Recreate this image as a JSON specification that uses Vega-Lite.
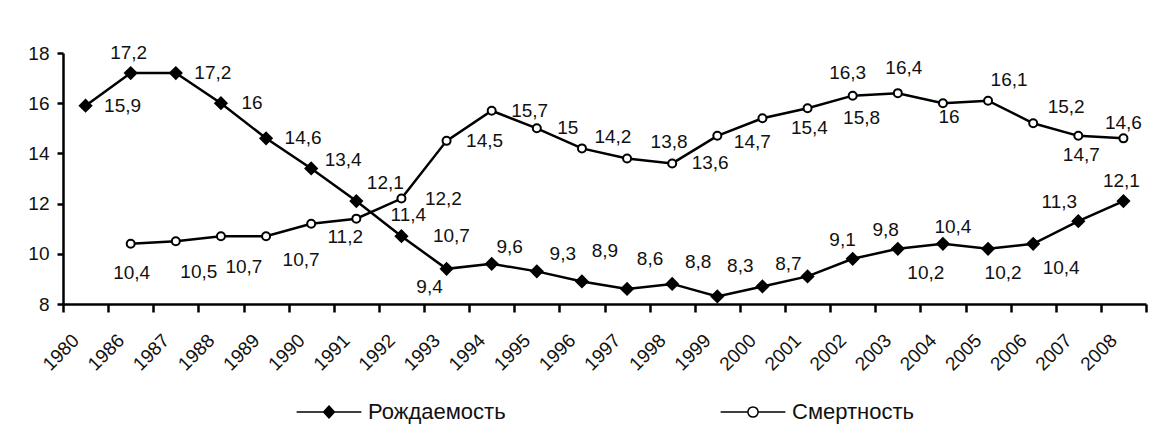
{
  "$schema": "https://vega.github.io/schema/vega-lite/v6.json",
  "autosize": "none",
  "width": 1083,
  "height": 251,
  "padding": {"left": 63, "top": 53, "right": 13, "bottom": 130},
  "background": "white",
  "config": {
    "view": {"stroke": null},
    "locale": {"number": {"decimal": ",", "thousands": "\u00a0", "grouping": [3], "currency": ["", " руб."]}},
    "axis": {"labelFont": "Liberation Sans, Arial, sans-serif", "labelFontSize": 19, "labelColor": "#111", "domainColor": "black", "domainWidth": 2.5, "tickColor": "black", "tickWidth": 2.5, "grid": false, "title": null}
  },
  "data": {"values": [
    {"year": "1980", "series": "Рождаемость", "value": 15.9},
    {"year": "1986", "series": "Рождаемость", "value": 17.2},
    {"year": "1987", "series": "Рождаемость", "value": 17.2},
    {"year": "1988", "series": "Рождаемость", "value": 16},
    {"year": "1989", "series": "Рождаемость", "value": 14.6},
    {"year": "1990", "series": "Рождаемость", "value": 13.4},
    {"year": "1991", "series": "Рождаемость", "value": 12.1},
    {"year": "1992", "series": "Рождаемость", "value": 10.7},
    {"year": "1993", "series": "Рождаемость", "value": 9.4},
    {"year": "1994", "series": "Рождаемость", "value": 9.6},
    {"year": "1995", "series": "Рождаемость", "value": 9.3},
    {"year": "1996", "series": "Рождаемость", "value": 8.9},
    {"year": "1997", "series": "Рождаемость", "value": 8.6},
    {"year": "1998", "series": "Рождаемость", "value": 8.8},
    {"year": "1999", "series": "Рождаемость", "value": 8.3},
    {"year": "2000", "series": "Рождаемость", "value": 8.7},
    {"year": "2001", "series": "Рождаемость", "value": 9.1},
    {"year": "2002", "series": "Рождаемость", "value": 9.8},
    {"year": "2003", "series": "Рождаемость", "value": 10.2},
    {"year": "2004", "series": "Рождаемость", "value": 10.4},
    {"year": "2005", "series": "Рождаемость", "value": 10.2},
    {"year": "2006", "series": "Рождаемость", "value": 10.4},
    {"year": "2007", "series": "Рождаемость", "value": 11.3},
    {"year": "2008", "series": "Рождаемость", "value": 12.1},
    {"year": "1986", "series": "Смертность", "value": 10.4},
    {"year": "1987", "series": "Смертность", "value": 10.5},
    {"year": "1988", "series": "Смертность", "value": 10.7},
    {"year": "1989", "series": "Смертность", "value": 10.7},
    {"year": "1990", "series": "Смертность", "value": 11.2},
    {"year": "1991", "series": "Смертность", "value": 11.4},
    {"year": "1992", "series": "Смертность", "value": 12.2},
    {"year": "1993", "series": "Смертность", "value": 14.5},
    {"year": "1994", "series": "Смертность", "value": 15.7},
    {"year": "1995", "series": "Смертность", "value": 15.0},
    {"year": "1996", "series": "Смертность", "value": 14.2},
    {"year": "1997", "series": "Смертность", "value": 13.8},
    {"year": "1998", "series": "Смертность", "value": 13.6},
    {"year": "1999", "series": "Смертность", "value": 14.7},
    {"year": "2000", "series": "Смертность", "value": 15.4},
    {"year": "2001", "series": "Смертность", "value": 15.8},
    {"year": "2002", "series": "Смертность", "value": 16.3},
    {"year": "2003", "series": "Смертность", "value": 16.4},
    {"year": "2004", "series": "Смертность", "value": 16.0},
    {"year": "2005", "series": "Смертность", "value": 16.1},
    {"year": "2006", "series": "Смертность", "value": 15.2},
    {"year": "2007", "series": "Смертность", "value": 14.7},
    {"year": "2008", "series": "Смертность", "value": 14.6}
  ]},
  "encoding": {
    "x": {"field": "year", "type": "ordinal", "scale": {"type": "band", "paddingInner": 0, "paddingOuter": 0},
      "axis": {"tickBand": "extent", "labelAngle": -45, "labelAlign": "right", "labelBaseline": "middle", "labelOffset": -10, "labelPadding": 25, "tickSize": 8}},
    "y": {"field": "value", "type": "quantitative", "scale": {"domain": [8, 18], "nice": false, "zero": false},
      "axis": {"values": [8, 10, 12, 14, 16, 18], "tickSize": 6, "labelPadding": 8}}
  },
  "layer": [
    {"mark": {"type": "line", "color": "black", "strokeWidth": 2.5}, "encoding": {"detail": {"field": "series"}}},
    {"mark": {"type": "point", "stroke": "black", "strokeWidth": 2, "opacity": 1},
      "encoding": {
        "shape": {"condition": {"test": "datum.series === 'Смертность'", "value": "circle"}, "value": "diamond"},
        "fill": {"condition": {"test": "datum.series === 'Смертность'", "value": "white"}, "value": "black"},
        "size": {"condition": {"test": "datum.series === 'Смертность'", "value": 64}, "value": 130}
      }},
    {"mark": {"type": "point", "size": 0, "stroke": "black", "strokeWidth": 2.5, "opacity": 1},
      "encoding": {
        "shape": {"field": "series", "type": "nominal",
          "scale": {"domain": ["Рождаемость", "Смертность"], "range": ["M-5.4,0H5.4M0,-1L0.9,0L0,1L-0.9,0Z", "M-5.4,0H-0.85M0.85,0H5.4M-0.85,0A0.85,0.85 0 1,1 0.85,0A0.85,0.85 0 1,1 -0.85,0Z"]},
          "legend": {"title": null, "orient": "none", "legendX": 255, "legendY": 348, "direction": "horizontal", "padding": 0, "symbolSize": 144, "labelFont": "Liberation Sans, Arial, sans-serif", "labelFontSize": 22, "labelColor": "#111", "labelOffset": 28, "columnPadding": 211, "labelLimit": 300,
            "encode": {"symbols": {"update": {"stroke": {"value": "black"}, "strokeWidth": {"value": 3}, "strokeOpacity": {"value": 1}}}}}},
        "fill": {"field": "series", "type": "nominal",
          "scale": {"domain": ["Рождаемость", "Смертность"], "range": ["black", "white"]},
          "legend": {"title": null, "orient": "none", "legendX": 255, "legendY": 348, "direction": "horizontal", "padding": 0, "symbolSize": 144, "labelFont": "Liberation Sans, Arial, sans-serif", "labelFontSize": 22, "labelColor": "#111", "labelOffset": 28, "columnPadding": 211, "labelLimit": 300,
            "encode": {"symbols": {"update": {"stroke": {"value": "black"}, "strokeWidth": {"value": 3}, "strokeOpacity": {"value": 1}}}}}}
      }},
    {"layer": [
      {"transform": [{"filter": {"and": [{"field": "series", "equal": "Рождаемость"}, {"field": "year", "oneOf": ["1980", "1987", "1989"]}]}}], "mark": {"type": "text", "dx": 37, "dy": 0}},
      {"transform": [{"filter": {"and": [{"field": "series", "equal": "Рождаемость"}, {"field": "year", "oneOf": ["1988"]}]}}], "mark": {"type": "text", "dx": 31, "dy": 0}},
      {"transform": [{"filter": {"and": [{"field": "series", "equal": "Рождаемость"}, {"field": "year", "oneOf": ["1990"]}]}}], "mark": {"type": "text", "dx": 32, "dy": -8}},
      {"transform": [{"filter": {"and": [{"field": "series", "equal": "Рождаемость"}, {"field": "year", "oneOf": ["1991"]}]}}], "mark": {"type": "text", "dx": 29, "dy": -18}},
      {"transform": [{"filter": {"and": [{"field": "series", "equal": "Рождаемость"}, {"field": "year", "oneOf": ["1992"]}]}}], "mark": {"type": "text", "dx": 50, "dy": 0}},
      {"transform": [{"filter": {"and": [{"field": "series", "equal": "Рождаемость"}, {"field": "year", "oneOf": ["1993"]}]}}], "mark": {"type": "text", "dx": -17, "dy": 18}},
      {"transform": [{"filter": {"and": [{"field": "series", "equal": "Рождаемость"}, {"field": "year", "oneOf": ["1994"]}]}}], "mark": {"type": "text", "dx": 18, "dy": -17}},
      {"transform": [{"filter": {"and": [{"field": "series", "equal": "Рождаемость"}, {"field": "year", "oneOf": ["1995"]}]}}], "mark": {"type": "text", "dx": 26, "dy": -17}},
      {"transform": [{"filter": {"and": [{"field": "series", "equal": "Рождаемость"}, {"field": "year", "oneOf": ["1996", "1997", "1999"]}]}}], "mark": {"type": "text", "dx": 23, "dy": -30}},
      {"transform": [{"filter": {"and": [{"field": "series", "equal": "Рождаемость"}, {"field": "year", "oneOf": ["1998", "2000"]}]}}], "mark": {"type": "text", "dx": 26, "dy": -22}},
      {"transform": [{"filter": {"and": [{"field": "series", "equal": "Рождаемость"}, {"field": "year", "oneOf": ["2001"]}]}}], "mark": {"type": "text", "dx": 35, "dy": -36}},
      {"transform": [{"filter": {"and": [{"field": "series", "equal": "Рождаемость"}, {"field": "year", "oneOf": ["2002"]}]}}], "mark": {"type": "text", "dx": 33, "dy": -29}},
      {"transform": [{"filter": {"and": [{"field": "series", "equal": "Рождаемость"}, {"field": "year", "oneOf": ["2003", "2006"]}]}}], "mark": {"type": "text", "dx": 28, "dy": 24}},
      {"transform": [{"filter": {"and": [{"field": "series", "equal": "Рождаемость"}, {"field": "year", "oneOf": ["2004"]}]}}], "mark": {"type": "text", "dx": 10, "dy": -17}},
      {"transform": [{"filter": {"and": [{"field": "series", "equal": "Рождаемость"}, {"field": "year", "oneOf": ["2005"]}]}}], "mark": {"type": "text", "dx": 15, "dy": 24}},
      {"transform": [{"filter": {"and": [{"field": "series", "equal": "Рождаемость"}, {"field": "year", "oneOf": ["2007"]}]}}], "mark": {"type": "text", "dx": -19, "dy": -19}},
      {"transform": [{"filter": {"and": [{"field": "series", "equal": "Рождаемость"}, {"field": "year", "oneOf": ["1986", "2008"]}]}}], "mark": {"type": "text", "dx": -2, "dy": -20}},
      {"transform": [{"filter": {"and": [{"field": "series", "equal": "Смертность"}, {"field": "year", "oneOf": ["1986"]}]}}], "mark": {"type": "text", "dx": 1, "dy": 29}},
      {"transform": [{"filter": {"and": [{"field": "series", "equal": "Смертность"}, {"field": "year", "oneOf": ["1987", "1988"]}]}}], "mark": {"type": "text", "dx": 23, "dy": 31}},
      {"transform": [{"filter": {"and": [{"field": "series", "equal": "Смертность"}, {"field": "year", "oneOf": ["1989"]}]}}], "mark": {"type": "text", "dx": 35, "dy": 24}},
      {"transform": [{"filter": {"and": [{"field": "series", "equal": "Смертность"}, {"field": "year", "oneOf": ["1990"]}]}}], "mark": {"type": "text", "dx": 34, "dy": 13}},
      {"transform": [{"filter": {"and": [{"field": "series", "equal": "Смертность"}, {"field": "year", "oneOf": ["1991"]}]}}], "mark": {"type": "text", "dx": 52, "dy": -4}},
      {"transform": [{"filter": {"and": [{"field": "series", "equal": "Смертность"}, {"field": "year", "oneOf": ["1992"]}]}}], "mark": {"type": "text", "dx": 42, "dy": 0}},
      {"transform": [{"filter": {"and": [{"field": "series", "equal": "Смертность"}, {"field": "year", "oneOf": ["1993", "1994", "1998"]}]}}], "mark": {"type": "text", "dx": 38, "dy": 0}},
      {"transform": [{"filter": {"and": [{"field": "series", "equal": "Смертность"}, {"field": "year", "oneOf": ["1995"]}]}}], "mark": {"type": "text", "dx": 31, "dy": 0}},
      {"transform": [{"filter": {"and": [{"field": "series", "equal": "Смертность"}, {"field": "year", "oneOf": ["1996"]}]}}], "mark": {"type": "text", "dx": 31, "dy": -11}},
      {"transform": [{"filter": {"and": [{"field": "series", "equal": "Смертность"}, {"field": "year", "oneOf": ["1997"]}]}}], "mark": {"type": "text", "dx": 42, "dy": -16}},
      {"transform": [{"filter": {"and": [{"field": "series", "equal": "Смертность"}, {"field": "year", "oneOf": ["1999"]}]}}], "mark": {"type": "text", "dx": 35, "dy": 6}},
      {"transform": [{"filter": {"and": [{"field": "series", "equal": "Смертность"}, {"field": "year", "oneOf": ["2000"]}]}}], "mark": {"type": "text", "dx": 47, "dy": 10}},
      {"transform": [{"filter": {"and": [{"field": "series", "equal": "Смертность"}, {"field": "year", "oneOf": ["2001"]}]}}], "mark": {"type": "text", "dx": 54, "dy": 10}},
      {"transform": [{"filter": {"and": [{"field": "series", "equal": "Смертность"}, {"field": "year", "oneOf": ["2002"]}]}}], "mark": {"type": "text", "dx": -5, "dy": -23}},
      {"transform": [{"filter": {"and": [{"field": "series", "equal": "Смертность"}, {"field": "year", "oneOf": ["2003"]}]}}], "mark": {"type": "text", "dx": 6, "dy": -25}},
      {"transform": [{"filter": {"and": [{"field": "series", "equal": "Смертность"}, {"field": "year", "oneOf": ["2004"]}]}}], "mark": {"type": "text", "dx": 6, "dy": 14}},
      {"transform": [{"filter": {"and": [{"field": "series", "equal": "Смертность"}, {"field": "year", "oneOf": ["2005"]}]}}], "mark": {"type": "text", "dx": 21, "dy": -21}},
      {"transform": [{"filter": {"and": [{"field": "series", "equal": "Смертность"}, {"field": "year", "oneOf": ["2006"]}]}}], "mark": {"type": "text", "dx": 33, "dy": -16}},
      {"transform": [{"filter": {"and": [{"field": "series", "equal": "Смертность"}, {"field": "year", "oneOf": ["2007"]}]}}], "mark": {"type": "text", "dx": 3, "dy": 19}},
      {"transform": [{"filter": {"and": [{"field": "series", "equal": "Смертность"}, {"field": "year", "oneOf": ["2008"]}]}}], "mark": {"type": "text", "dx": 0, "dy": -15}}
    ],
    "encoding": {
      "text": {"field": "value", "type": "quantitative", "format": ".1~f"},
      "font": {"value": "Liberation Sans, Arial, sans-serif"},
      "size": {"value": 19},
      "color": {"value": "#111"}
    }}
  ]
}
